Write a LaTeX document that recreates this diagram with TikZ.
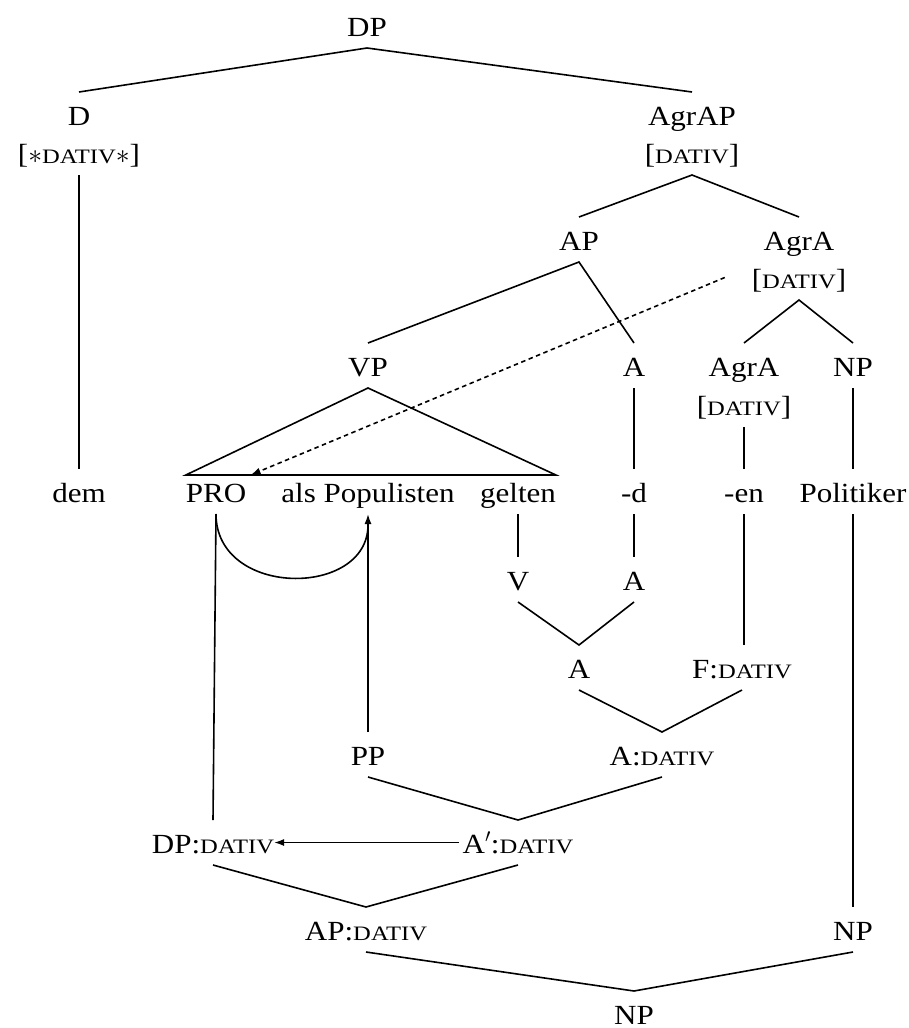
\documentclass[tikz,border=0pt]{standalone}
\usepackage{fix-cm}
\usepackage{fontspec}
\setmainfont{Liberation Serif}[FakeStretch=1.12]
\newfontfamily\capsfont{Liberation Serif}[FakeStretch=1.2]
% small capitals for feature values
\newcommand\smc[1]{{\capsfont\fontsize{20.5pt}{20.5pt}\selectfont #1}}
\usetikzlibrary{arrows.meta,calc}

\begin{document}
\begin{tikzpicture}[x=1pt,y=-1pt,
  lbl/.style={anchor=base, inner sep=0pt, outer sep=0pt,
              text height=33pt, text depth=12pt,
              font=\fontsize{27.7pt}{30pt}\selectfont},
  edge/.style={line width=1.6pt},
  arr/.style={edge,-{Latex[length=10pt,width=7pt]}},
]
\useasboundingbox (0,0) rectangle (909,1028);

% upper tree
\node[lbl] (dp)     at (367,36)  {DP};
\node[lbl] (d)      at (79,125)  {D};
\node[lbl] (dfeat)  at (79,163)  {[$\ast$\smc{DATIV}$\ast$]};
\node[lbl] (agrap)  at (692,125) {AgrAP};
\node[lbl] (agrapf) at (692,163) {[\smc{DATIV}]};
\node[lbl] (ap)     at (579,250) {AP};
\node[lbl] (agra)   at (799,250) {AgrA};
\node[lbl] (agraf)  at (799,288) {[\smc{DATIV}]};
\node[lbl] (vp)     at (368,376) {VP};
\node[lbl] (a)      at (634,376) {A};
\node[lbl] (agrb)   at (744,376) {AgrA};
\node[lbl] (agrbf)  at (744,415) {[\smc{DATIV}]};
\node[lbl] (np)     at (853,376) {NP};

% words
\node[lbl] (dem)    at (79,502)  {dem};
\node[lbl] (pro)    at (216,502) {PRO};
\node[lbl] (als)    at (368,502) {als Populisten};
\node[lbl] (gelten) at (518,502) {gelten};
\node[lbl] (dsuf)   at (634,502) {-d};
\node[lbl] (ensuf)  at (744,502) {-en};
\node[lbl] (pol)    at (853,502) {Politiker};

% lower structure
\node[lbl] (v)      at (518,590) {V};
\node[lbl] (ab)     at (634,590) {A};
\node[lbl] (ac)     at (579,678) {A};
\node[lbl] (f)      at (742,678) {F:\smc{DATIV}};
\node[lbl] (pp)     at (368,765) {PP};
\node[lbl] (adat)   at (662,765) {A:\smc{DATIV}};
\node[lbl] (dpdat)  at (213,853) {DP:\smc{DATIV}};
\node[lbl] (abdat)  at (518,853) {A$'$:\smc{DATIV}};
\node[lbl] (apdat)  at (366,940) {AP:\smc{DATIV}};
\node[lbl] (npr)    at (853,940) {NP};
\node[lbl] (npb)    at (634,1024) {NP};

% upper branches
\draw[edge] (d.north) -- (dp.south) -- (agrap.north);
\draw[edge] (dfeat.south) -- (dem.north);
\draw[edge] (ap.north) -- (agrapf.south) -- (agra.north);
\draw[edge] (vp.north) -- (ap.south) -- (a.north);
\draw[edge] (agrb.north) -- (agraf.south) -- (np.north);
\draw[edge] (a.south) -- (dsuf.north);
\draw[edge] (agrbf.south) -- (ensuf.north);
\draw[edge] (np.south) -- (pol.north);

% VP triangle
\coordinate (tl) at ([yshift=-6pt]pro.north west);
\coordinate (tr) at ([yshift=-6pt]gelten.north east);
\draw[edge] (vp.south) -- (tl) -- (tr) -- cycle;

% dashed agreement arrow
\draw[arr, dash pattern=on 4.5pt off 3.5pt] ([xshift=-27pt]agraf.west) -- ($(tl)!0.175!(tr)$);

% lower branches
\draw[edge] (gelten.south) -- (v.north);
\draw[edge] (dsuf.south) -- (ab.north);
\draw[edge] (v.south) -- (ac.north) -- (ab.south);
\draw[edge] (ensuf.south) -- (ensuf.south |- f.north);
\draw[edge] (ac.south) -- (adat.north) -- (f.south);
\draw[edge] (pp.south) -- (abdat.north) -- (adat.south);
\draw[edge] (dpdat.south) -- (apdat.north) -- (abdat.south);
\draw[edge] (pol.south) -- (npr.north);
\draw[edge] (apdat.south) -- (npb.north) -- (npr.south);

% PRO links
\draw[edge] (pro.south) -- (dpdat.north);
\coordinate (cj) at ($(als.south)+(0,11)$);
\draw[edge] (pro.south) .. controls +(0,84) and +(0,73) .. (cj);
\draw[arr] (pp.north) -- (als.south);
\draw[arr, shorten <=4pt] (abdat.west) -- (dpdat.east);
\end{tikzpicture}
\end{document}
